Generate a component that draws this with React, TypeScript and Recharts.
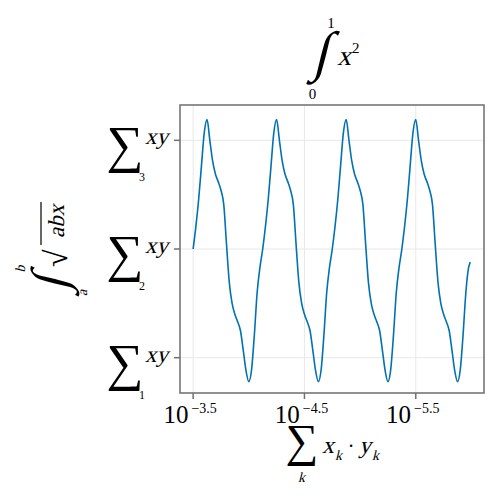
import { CartesianGrid, Line, LineChart, ReferenceArea, XAxis, YAxis } from "recharts";

// values
const xValues = [
  0, 0.025, 0.05, 0.075, 0.1, 0.125, 0.15, 0.175, 0.2, 0.225, 0.25, 0.275, 0.3,
  0.325, 0.35, 0.375, 0.4, 0.425, 0.45, 0.475, 0.5, 0.525, 0.55, 0.575, 0.6,
  0.625, 0.65, 0.675, 0.7, 0.725, 0.75, 0.775, 0.8, 0.825, 0.85, 0.875, 0.9,
  0.925, 0.95, 0.975, 1.0, 1.025, 1.05, 1.075, 1.1, 1.125, 1.15, 1.175, 1.2,
  1.225, 1.25, 1.275, 1.3, 1.325, 1.35, 1.375, 1.4, 1.425, 1.45, 1.475, 1.5,
  1.525, 1.55, 1.575, 1.6, 1.625, 1.65, 1.675, 1.7, 1.725, 1.75, 1.775, 1.8,
  1.825, 1.85, 1.875, 1.9, 1.925, 1.95, 1.975, 2.0, 2.025, 2.05, 2.075, 2.1,
  2.125, 2.15, 2.175, 2.2, 2.225, 2.25, 2.275, 2.3, 2.325, 2.35, 2.375, 2.4,
  2.425, 2.45, 2.475, 2.49,
];

const yValues = [
  2.0, 2.21, 2.46, 2.77, 3.07, 3.19, 3.0, 2.81, 2.69, 2.62, 2.54, 2.41, 2.04,
  1.69, 1.5, 1.4, 1.33, 1.25, 1.07, 0.88, 0.78, 0.89, 1.21, 1.6, 1.83,
  2.0, 2.21, 2.46, 2.77, 3.07, 3.19, 3.0, 2.81, 2.69, 2.62, 2.54, 2.41, 2.04,
  1.69, 1.5, 1.4, 1.33, 1.25, 1.07, 0.88, 0.78, 0.89, 1.21, 1.6, 1.83,
  2.0, 2.21, 2.46, 2.77, 3.07, 3.19, 3.0, 2.81, 2.69, 2.62, 2.54, 2.41, 2.04,
  1.69, 1.5, 1.4, 1.33, 1.25, 1.07, 0.88, 0.78, 0.89, 1.21, 1.6, 1.83,
  2.0, 2.21, 2.46, 2.77, 3.07, 3.19, 3.0, 2.81, 2.69, 2.62, 2.54, 2.41, 2.04,
  1.69, 1.5, 1.4, 1.33, 1.25, 1.07, 0.88, 0.78, 0.89, 1.21, 1.6, 1.83,
  1.88,
];

const xTicks = [0, 1, 2];
const xTickExponents = ["−3.5", "−4.5", "−5.5"];
const yTicks = [1, 2, 3];
const yTickSubscripts = ["1", "2", "3"];

const data = xValues.map((x, i) => ({ x, y: yValues[i] }));

const SERIF = "'Liberation Serif', serif";
const FRAME = "#707070";

// no serif italic face is installed, so slant the upright one
function It({ x, y, size, anchor = "start", children }: any) {
  return (
    <text
      transform={`translate(${x},${y}) skewX(-14)`}
      fontSize={size}
      fontFamily={SERIF}
      textAnchor={anchor}
    >
      {children}
    </text>
  );
}

function XTick({ x, payload }: any) {
  const i = xTicks.indexOf(payload.value);
  return (
    <text x={x - 3} y={423} textAnchor="middle" fontFamily={SERIF} fill="#000">
      <tspan fontSize={25}>10</tspan>
      <tspan fontSize={14} dy={-10} dx={3}>
        {xTickExponents[i]}
      </tspan>
    </text>
  );
}

function YTick({ y, payload }: any) {
  const i = yTicks.indexOf(payload.value);
  return (
    <g fill="#000">
      <text x={125} y={y + 22} fontSize={52} textAnchor="middle" fontFamily={SERIF}>
        ∑
      </text>
      <It x={145} y={y + 4} size={23}>
        xy
      </It>
      <text x={142} y={y + 41} fontSize={12} textAnchor="middle" fontFamily={SERIF}>
        {yTickSubscripts[i]}
      </text>
    </g>
  );
}

function Titles() {
  return (
    <svg
      width={500}
      height={500}
      style={{ position: "absolute", left: 0, top: 0, pointerEvents: "none" }}
      fill="#000"
    >
      {/* title */}
      <It x={320} y={70} size={55} anchor="middle">∫</It>
      <text x={331} y={28} fontSize={15} textAnchor="middle" fontFamily={SERIF}>1</text>
      <text x={312.5} y={99} fontSize={15} textAnchor="middle" fontFamily={SERIF}>0</text>
      <It x={337} y={65} size={28}>x</It>
      <text x={352} y={53} fontSize={15} fontFamily={SERIF}>2</text>

      {/* x label */}
      <text x={302} y={456} fontSize={46} textAnchor="middle" fontFamily={SERIF}>∑</text>
      <It x={301.5} y={482} size={14} anchor="middle">k</It>
      <It x={322} y={453} size={24}>x</It>
      <It x={335} y={460} size={14}>k</It>
      <text x={351} y={453} fontSize={20} textAnchor="middle" fontFamily={SERIF}>·</text>
      <It x={359} y={453} size={24}>y</It>
      <It x={372} y={460} size={14}>k</It>

      {/* y label, rotated */}
      <g transform="translate(0,300) rotate(-90)">
        <It x={16} y={66} size={50} anchor="middle">∫</It>
        <It x={31} y={25} size={14} anchor="middle">b</It>
        <It x={7} y={87} size={14} anchor="middle">a</It>
        <text x={33} y={67} fontSize={32} fontFamily={SERIF}>√</text>
        <line x1={55} y1={41} x2={98} y2={41} stroke="#000" strokeWidth={1.2} />
        <It x={62} y={64} size={23}>abx</It>
      </g>
    </svg>
  );
}

export default function App() {
  return (
    <div
      style={{
        position: "absolute",
        left: 0,
        top: 0,
        width: 500,
        height: 500,
        background: "#fff",
      }}
    >
      <LineChart
        width={500}
        height={500}
        data={data}
        margin={{ top: 105, right: 16, bottom: 0, left: 0 }}
      >
        <CartesianGrid stroke="#e8e8e8" strokeWidth={1} />
        <XAxis
          dataKey="x"
          type="number"
          domain={[-0.118, 2.613]}
          ticks={xTicks}
          height={107}
          axisLine={false}
          tickLine={{ stroke: FRAME, strokeWidth: 1.5 }}
          tickSize={6}
          tick={(p: any) => <XTick {...p} />}
          allowDataOverflow
        />
        <YAxis
          type="number"
          domain={[0.675, 3.325]}
          ticks={yTicks}
          width={180}
          axisLine={false}
          tickLine={{ stroke: FRAME, strokeWidth: 1.5 }}
          tickSize={6}
          tick={(p: any) => <YTick {...p} />}
          allowDataOverflow
        />
        <ReferenceArea
          x1={-0.118}
          x2={2.613}
          y1={0.675}
          y2={3.325}
          fill="#fff"
          fillOpacity={0}
          stroke={FRAME}
          strokeWidth={1.5}
          ifOverflow="visible"
        />
        <Line
          type="monotone"
          dataKey="y"
          stroke="#0072b2"
          strokeWidth={1.6}
          dot={false}
          isAnimationActive={false}
        />
      </LineChart>
      <Titles />
    </div>
  );
}
